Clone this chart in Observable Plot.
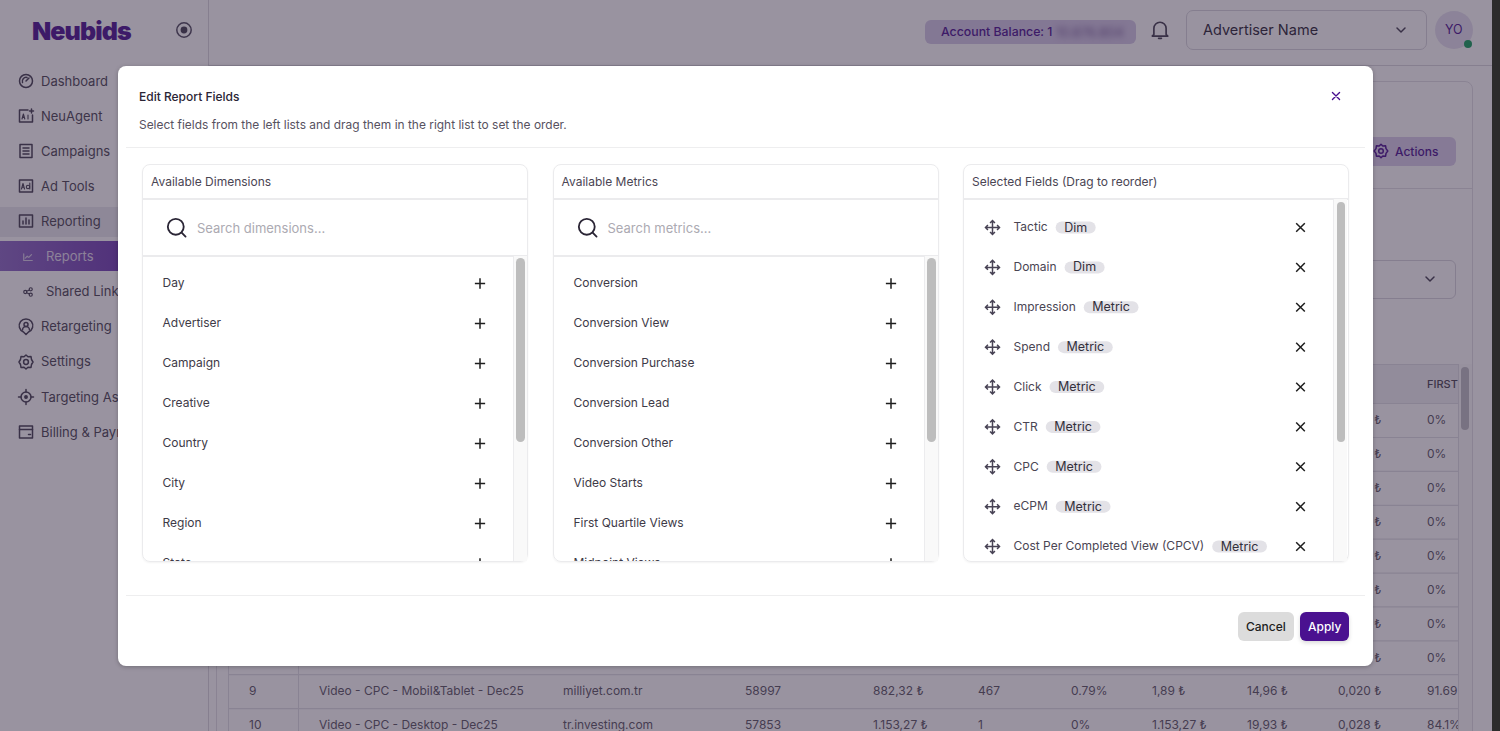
<!DOCTYPE html>
<html><head><meta charset="utf-8">
<script src="https://cdn.jsdelivr.net/npm/d3@7"></script>
<script src="https://cdn.jsdelivr.net/npm/@observablehq/plot@0.6"></script>
<style>
html,body{margin:0;padding:0;width:1500px;height:731px;overflow:hidden;background:#fff;font-family:Inter,sans-serif}
#root{position:absolute;left:0;top:0;width:1500px;height:731px;overflow:hidden}
.b{position:absolute;box-sizing:border-box}
.t{position:absolute;white-space:nowrap;line-height:20px;height:20px}
svg.i{position:absolute;overflow:visible;fill:none}
</style></head><body><div id="root"></div>
<script>
const navLabels=["Dashboard","NeuAgent","Campaigns","Ad Tools","Reporting","Reports","Shared Links","Retargeting","Settings","Targeting Assets","Billing & Payments"];
const subNav=["Reports","Shared Links"];
const dimensions=["Day","Advertiser","Campaign","Creative","Country","City","Region","State"];
const metrics=["Conversion","Conversion View","Conversion Purchase","Conversion Lead","Conversion Other","Video Starts","First Quartile Views","Midpoint Views"];
const selectedFields=["Tactic","Domain","Impression","Spend","Click","CTR","CPC","eCPM","Cost Per Completed View (CPCV)"];
const selectedKinds=["Dim","Dim","Metric","Metric","Metric","Metric","Metric","Metric","Metric"];
const tableRows=["1","2","3","4","5","6","7","8","9","10"];
const tactics=[,,,,,,,,"Video - CPC - Mobil&Tablet - Dec25","Video - CPC - Desktop - Dec25"];
const domains=[,,,,,,,,"milliyet.com.tr","tr.investing.com"];
const impressions=[,,,,,,,,"58997","57853"];
const spends=[,,,,,,,,"882,32 ₺","1.153,27 ₺"];
const clicks=[,,,,,,,,"467","1"];
const ctrs=[,,,,,,,,"0.79%","0%"];
const cpcs=[,,,,,,,,"1,89 ₺","1.153,27 ₺"];
const ecpms=[,,,,,,,,"14,96 ₺","19,93 ₺"];
const cpcvs=["0,020 ₺","0,020 ₺","0,020 ₺","0,020 ₺","0,020 ₺","0,020 ₺","0,020 ₺","0,020 ₺","0,020 ₺","0,028 ₺"];
const firstQuartile=["0%","0%","0%","0%","0%","0%","0%","0%","91.69%","84.1%"];

const root=document.getElementById("root");
function box(x,y,w,h,css="",parent=root){const d=document.createElement("div");d.className="b";d.style.cssText=`left:${x}px;top:${y}px;width:${w}px;height:${h}px;${css}`;parent.appendChild(d);return d}
function txt(x,cy,s,css="",parent=root){const d=document.createElement("div");d.className="t";d.textContent=s;d.style.cssText=`left:${x}px;top:${cy-10}px;${css}`;parent.appendChild(d);return d}
function icon(cx,cy,inner,stroke,size=18,parent=root){const n=document.createElementNS("http://www.w3.org/2000/svg","svg");n.setAttribute("class","i");n.setAttribute("viewBox","-9 -9 18 18");n.setAttribute("width",size);n.setAttribute("height",size);n.style.cssText=`left:${cx-size/2}px;top:${cy-size/2}px;stroke:${stroke};stroke-width:1.5;stroke-linecap:round;stroke-linejoin:round`;n.innerHTML=inner;parent.appendChild(n);return n}
function place(svg,x,y,z=0,parent=root){svg.style.position="absolute";svg.style.left=x+"px";svg.style.top=y+"px";svg.style.zIndex=z;parent.appendChild(svg);return svg}
const baseStyle={background:"transparent",fontFamily:"Inter, sans-serif",overflow:"hidden"};

/* ---------- page behind the dialog ---------- */
box(0,0,1500,731,"background:#fff");
box(208,0,1,731,"background:#d8d6dc");
box(208,65,1284,1,"background:#d8d6dc");
txt(32,31,"Neubids","font-size:25px;font-weight:900;color:#470d8e;letter-spacing:-.9px;line-height:20px;");
icon(184,30,'<circle r="7.2"/><circle r="3.4" fill="#3f3a4d" stroke="none"/>',"#4a4559",18);
box(0,207,208,30,"background:#e9e9ee");
box(0,241,208,30,"background:linear-gradient(90deg,#8a66c4,#5a1ba6)");
const navIcons={
Dashboard:'<circle r="6.5"/><path d="M0 0L3 -3M-3.5 1.5A3.8 3.8 0 0 1 1 -3.5"/>',
NeuAgent:'<path d="M2 -6H-6.5V6H6.5V-1"/><path d="M5.5 -7V-3M3.5 -5H7.5" /><path d="M-4 3L-2.6 -2L-1.2 3M-3.5 1.4H-1.7M2 -1V3" stroke-width="1.1"/>',
Campaigns:'<rect x="-6" y="-6.5" width="12" height="13"/><path d="M-3 -3H3M-3 0H3M-3 3H3"/>',
"Ad Tools":'<rect x="-6.5" y="-6" width="13" height="12"/><path d="M-4.5 3L-3 -2.5L-1.5 3M-4 1.3H-2M3.8 -3V3" stroke-width="1.1"/><circle cx="2" cy="1" r="1.7" stroke-width="1.1"/>',
Reporting:'<rect x="-6.5" y="-6" width="13" height="12"/><path d="M-3 3V0M0 3V-3M3 3V-1"/>',
Reports:'<path d="M-5.5 -4V4.5H5.5M-3.5 1.5L-1 -1L1 .5L4.5 -3"/>',
"Shared Links":'<circle cx="-3.5" r="2"/><circle cx="3.5" cy="-3.5" r="2"/><circle cx="3.5" cy="3.5" r="2"/><path d="M-1.8 -1L1.8 -2.5M-1.8 1L1.8 2.5"/>',
Retargeting:'<path d="M-2.5 5A6.8 6.8 0 1 1 2.5 5L0 7.5Z"/><circle cy="-2.5" r="2"/><path d="M-3.5 3A3.5 3.5 0 0 1 3.5 3"/>',
Settings:'<path d="M0 -7L2 -5.2L5 -5.5L5.5 -2.5L7 0L5.5 2.5L5 5.5L2 5.2L0 7L-2 5.2L-5 5.5L-5.5 2.5L-7 0L-5.5 -2.5L-5 -5.5L-2 -5.2Z"/><circle r="2.4"/>',
"Targeting Assets":'<circle r="5"/><circle r="1.2" fill="#3f3a4d"/><path d="M0 -7.5V-5M0 5V7.5M-7.5 0H-5M5 0H7.5"/>',
"Billing & Payments":'<rect x="-6.5" y="-6" width="13" height="12"/><path d="M-6.5 -2.5H6.5M2.5 2.5H4.5"/>'};
navLabels.forEach((n,i)=>{const sub=subNav.includes(n),active=n==="Reports";icon(sub?28:26,81+35.1*i,navIcons[n],active?"#d8cfe8":"#3f3a4d",sub?14:18)});
place(Plot.plot({width:208,height:460,margin:0,x:{type:"identity",axis:null},y:{type:"point",padding:0,round:false,domain:navLabels,range:[81,432],axis:null},style:baseStyle,marks:[
 Plot.text(navLabels,{x:d=>subNav.includes(d)?45.5:40.5,y:d=>d,text:d=>d,textAnchor:"start",fontSize:13,fill:d=>d==="Reports"?"#e4dcef":"#46414f"})
]}),0,0);
box(925,20,211,24,"background:#d3c8e6;border-radius:6px");
txt(941,32,"Account Balance: 1","font-size:12.3px;font-weight:500;color:#470d8e");
txt(1056,32,"10.876.804","font-size:13px;color:#6b4f90;filter:blur(3px)");
icon(1160,30,'<path d="M-5.5 4V-1.5A5.5 5.5 0 0 1 5.5 -1.5V4L7 5.5H-7ZM-1.3 7.5H1.3"/>',"#3f3a4d",20);
box(1186,10,241,40,"border:1.5px solid #d6d4dc;border-radius:7px");
txt(1203,30,"Advertiser Name","font-size:14.5px;color:#262130");
icon(1401,30,'<path d="M-4 -2L0 2L4 -2"/>',"#3f3a4d",18);
box(1435,11,38,38,"background:#e5dff0;border-radius:50%");
txt(1445,30,"YO","font-size:12.5px;color:#470d8e");
box(1464,40,8,8,"background:#0f9d58;border-radius:50%;border:0");
box(216,81,1257,660,"border:1.5px solid #e0dfe5;border-radius:8px");
box(216,188,1257,1,"background:#e0dfe5");
box(1330,137,126,29,"background:#d8cdea;border-radius:6px");
icon(1381,151,'<path d="M0 -6.8L1.8 -5L4.6 -5.2L5 -2.4L6.8 0L5 2.4L4.6 5.2L1.8 5L0 6.8L-1.8 5L-4.6 5.2L-5 2.4L-6.8 0L-5 -2.4L-4.6 -5.2L-1.8 -5Z"/><circle r="2.3"/>',"#470d8e",18);
txt(1395,152,"Actions","font-size:12px;font-weight:500;color:#470d8e");
box(1300,260,156,39,"border:1.5px solid #d6d4dc;border-radius:6px");
icon(1430,279,'<path d="M-4 -2L0 2L4 -2"/>',"#3f3a4d",18);

/* table: a Plot with one text mark per column, clipped at the table's right edge */
const tableCols=[["row",tableRows,249],["tactic",tactics,319],["domain",domains,563],["imp",impressions,745],["spend",spends,873],["click",clicks,978],["ctr",ctrs,1071],["cpc",cpcs,1152],["ecpm",ecpms,1247],["cpcv",cpcvs,1338],["fq",firstQuartile,1427]];
const tableX=228,tableTop=364;
box(228,364,1230,39,"background:#f1f0f5;border-top:1px solid #dfdee4");
box(228,364,1230,367,"border-left:1px solid #dfdee4");
box(298,364,1,367,"background:#dfdee4");
box(1458,364,14,367,"background:#fafafb;border-left:1px solid #dfdee4");
box(1461,367,8,63,"background:#bdbcc2;border-radius:4px");
place(Plot.plot({width:1230,height:367,margin:0,x:{type:"identity",axis:null},y:{type:"point",padding:0,round:false,domain:tableRows,range:[420-tableTop,725-tableTop],axis:null},style:baseStyle,marks:[
 Plot.ruleY(tableRows,{y:d=>d,dy:17,stroke:"#dfdee4",strokeWidth:1.2}),
 Plot.ruleY(tableRows.slice(0,1),{y:d=>d,dy:-17,stroke:"#dfdee4",strokeWidth:1.2}),
 ...tableCols.map(([key,vals,x])=>Plot.text(tableRows.filter((r,i)=>vals[i]!=null),{x:()=>x-tableX-.5,y:d=>d,text:d=>vals[tableRows.indexOf(d)],textAnchor:"start",fontSize:12,fill:"#57525f"})),
 Plot.text(["FIRST QUARTILE"],{x:()=>1427-tableX-.5,y:()=>"1",dy:-36,text:d=>d,textAnchor:"start",fontSize:11,fontWeight:500,fill:"#46414f"})
]}),tableX,tableTop);

/* overlay */
box(0,0,1500,731,"background:rgba(52,40,66,.5);z-index:5");
box(1492,0,8,731,"background:#2c2c2c;z-index:6");

/* ---------- dialog ---------- */
const modal=box(118,66,1255,600,"background:#fff;border-radius:8px;z-index:10;box-shadow:0 1px 4px rgba(0,0,0,.25)");
const M=(x)=>x-118, N=(y)=>y-66;
txt(M(139),N(97),"Edit Report Fields","font-size:12px;font-weight:500;color:#2a2535",modal);
txt(M(139),N(125),"Select fields from the left lists and drag them in the right list to set the order.","font-size:11.95px;color:#57525f",modal);
icon(M(1336),N(96),'<path d="M-4 -4L4 4M-4 4L4 -4"/>',"#470d8e",16,modal);
box(M(126),N(146.5),1239,1.5,"background:#eeeeef",modal);
box(M(126),N(594.5),1239,1.5,"background:#eeeeef",modal);
box(M(1238),N(612),56,29,"background:#dcdcdc;border-radius:6px",modal);
txt(M(1246),N(627),"Cancel","font-size:12px;font-weight:500;color:#1e1e1e",modal);
box(M(1300),N(612),49,29,"background:#4a1190;border-radius:6px;box-shadow:0 2px 4px rgba(0,0,0,.15)",modal);
txt(M(1308),N(627),"Apply","font-size:12px;font-weight:500;color:#fff",modal);

const moveSymbol={draw(c,size){const s=Math.sqrt(size/Math.PI),a=s*.35;
 c.moveTo(-s,0);c.lineTo(s,0);c.moveTo(0,-s);c.lineTo(0,s);
 c.moveTo(-s+a,-a);c.lineTo(-s,0);c.lineTo(-s+a,a);
 c.moveTo(s-a,-a);c.lineTo(s,0);c.lineTo(s-a,a);
 c.moveTo(-a,-s+a);c.lineTo(0,-s);c.lineTo(a,-s+a);
 c.moveTo(-a,s-a);c.lineTo(0,s);c.lineTo(a,s-a);}};
const cv=document.createElement("canvas").getContext("2d");
const measure=(s,font)=>{cv.font=font;return cv.measureText(s).width};

function panel(x,title){
 box(M(x),N(164),386,398,"border:1.5px solid #ebebed;border-radius:8px;box-shadow:0 1px 2px rgba(0,0,0,.05)",modal);
 box(M(x),N(198),386,1.5,"background:#ebebed",modal);
 txt(M(x+9),N(182),title,"font-size:12px;font-weight:400;color:#4a4553",modal);
}
function fieldList(x,title,placeholder,items){
 panel(x,title);
 box(M(x),N(255),386,1.5,"background:#ebebed",modal);
 icon(M(x+35),N(227.5),'<circle cx="-1" cy="-1" r="6.5"/><path d="M3.8 3.8L7 7"/>',"#2a2535",22,modal);
 txt(M(x+55),N(228),placeholder,"font-size:13px;color:#acaab2",modal);
 box(M(x+371),N(256),14,305,"background:#f9f9f9;border-left:1.5px solid #ececee",modal);
 box(M(x+374),N(258),9,184,"background:#bdbdbd;border-radius:5px",modal);
 place(Plot.plot({width:370,height:304,margin:0,x:{type:"identity",axis:null},y:{type:"point",padding:0,round:false,domain:items,range:[283-257,283-257+40*(items.length-1)],axis:null},style:baseStyle,marks:[
  Plot.text(items,{x:()=>19,y:d=>d,text:d=>d,textAnchor:"start",fontSize:12,fill:"#3e3a47"}),
  Plot.dot(items,{x:()=>336.5,y:d=>d,symbol:"plus",r:3.4,stroke:"#1e1e1e",fill:"none",strokeWidth:1.5})
 ]}),M(x+1),N(257),1,modal);
}
fieldList(142,"Available Dimensions","Search dimensions...",dimensions);
fieldList(552.5,"Available Metrics","Search metrics...",metrics);
panel(963,"Selected Fields (Drag to reorder)");
box(M(1333),N(199),14,362,"background:#f9f9f9;border-left:1.5px solid #ececee",modal);
box(M(1337),N(202),8,240,"background:#bdbdbd;border-radius:5px",modal);
const labelFont="12px Inter",chipFont="12.5px Inter";
const selected=selectedFields.map((name,i)=>({name,kind:selectedKinds[i]}));
const labelEnd=d=>49+measure(d.name,labelFont);
const chipW=d=>measure(d.kind,chipFont)+17;
place(Plot.plot({width:368,height:362,margin:0,x:{type:"identity",axis:null},y:{type:"point",padding:0,round:false,domain:selectedFields,range:[227-199,546-199],axis:null},style:baseStyle,marks:[
 Plot.dot(selected,{x:()=>28,y:"name",symbol:moveSymbol,r:7,stroke:"#474254",fill:"none",strokeWidth:1.5}),
 Plot.text(selected,{x:()=>49,y:"name",text:"name",textAnchor:"start",fontSize:12,fill:"#4a4553"}),
 Plot.link(selected,{x1:d=>labelEnd(d)+14,x2:d=>labelEnd(d)+8+chipW(d)-6,y1:"name",y2:"name",stroke:"#e3e2e7",strokeWidth:12,strokeLinecap:"round"}),
 Plot.text(selected,{x:d=>labelEnd(d)+8+8.5,y:"name",text:"kind",textAnchor:"start",fontSize:12.5,fill:"#33303c"}),
 Plot.dot(selected,{x:()=>336,y:"name",symbol:"times",r:4,stroke:"#1e1e1e",fill:"none",strokeWidth:1.5})
]}),M(964),N(199),1,modal);
</script></body></html>
